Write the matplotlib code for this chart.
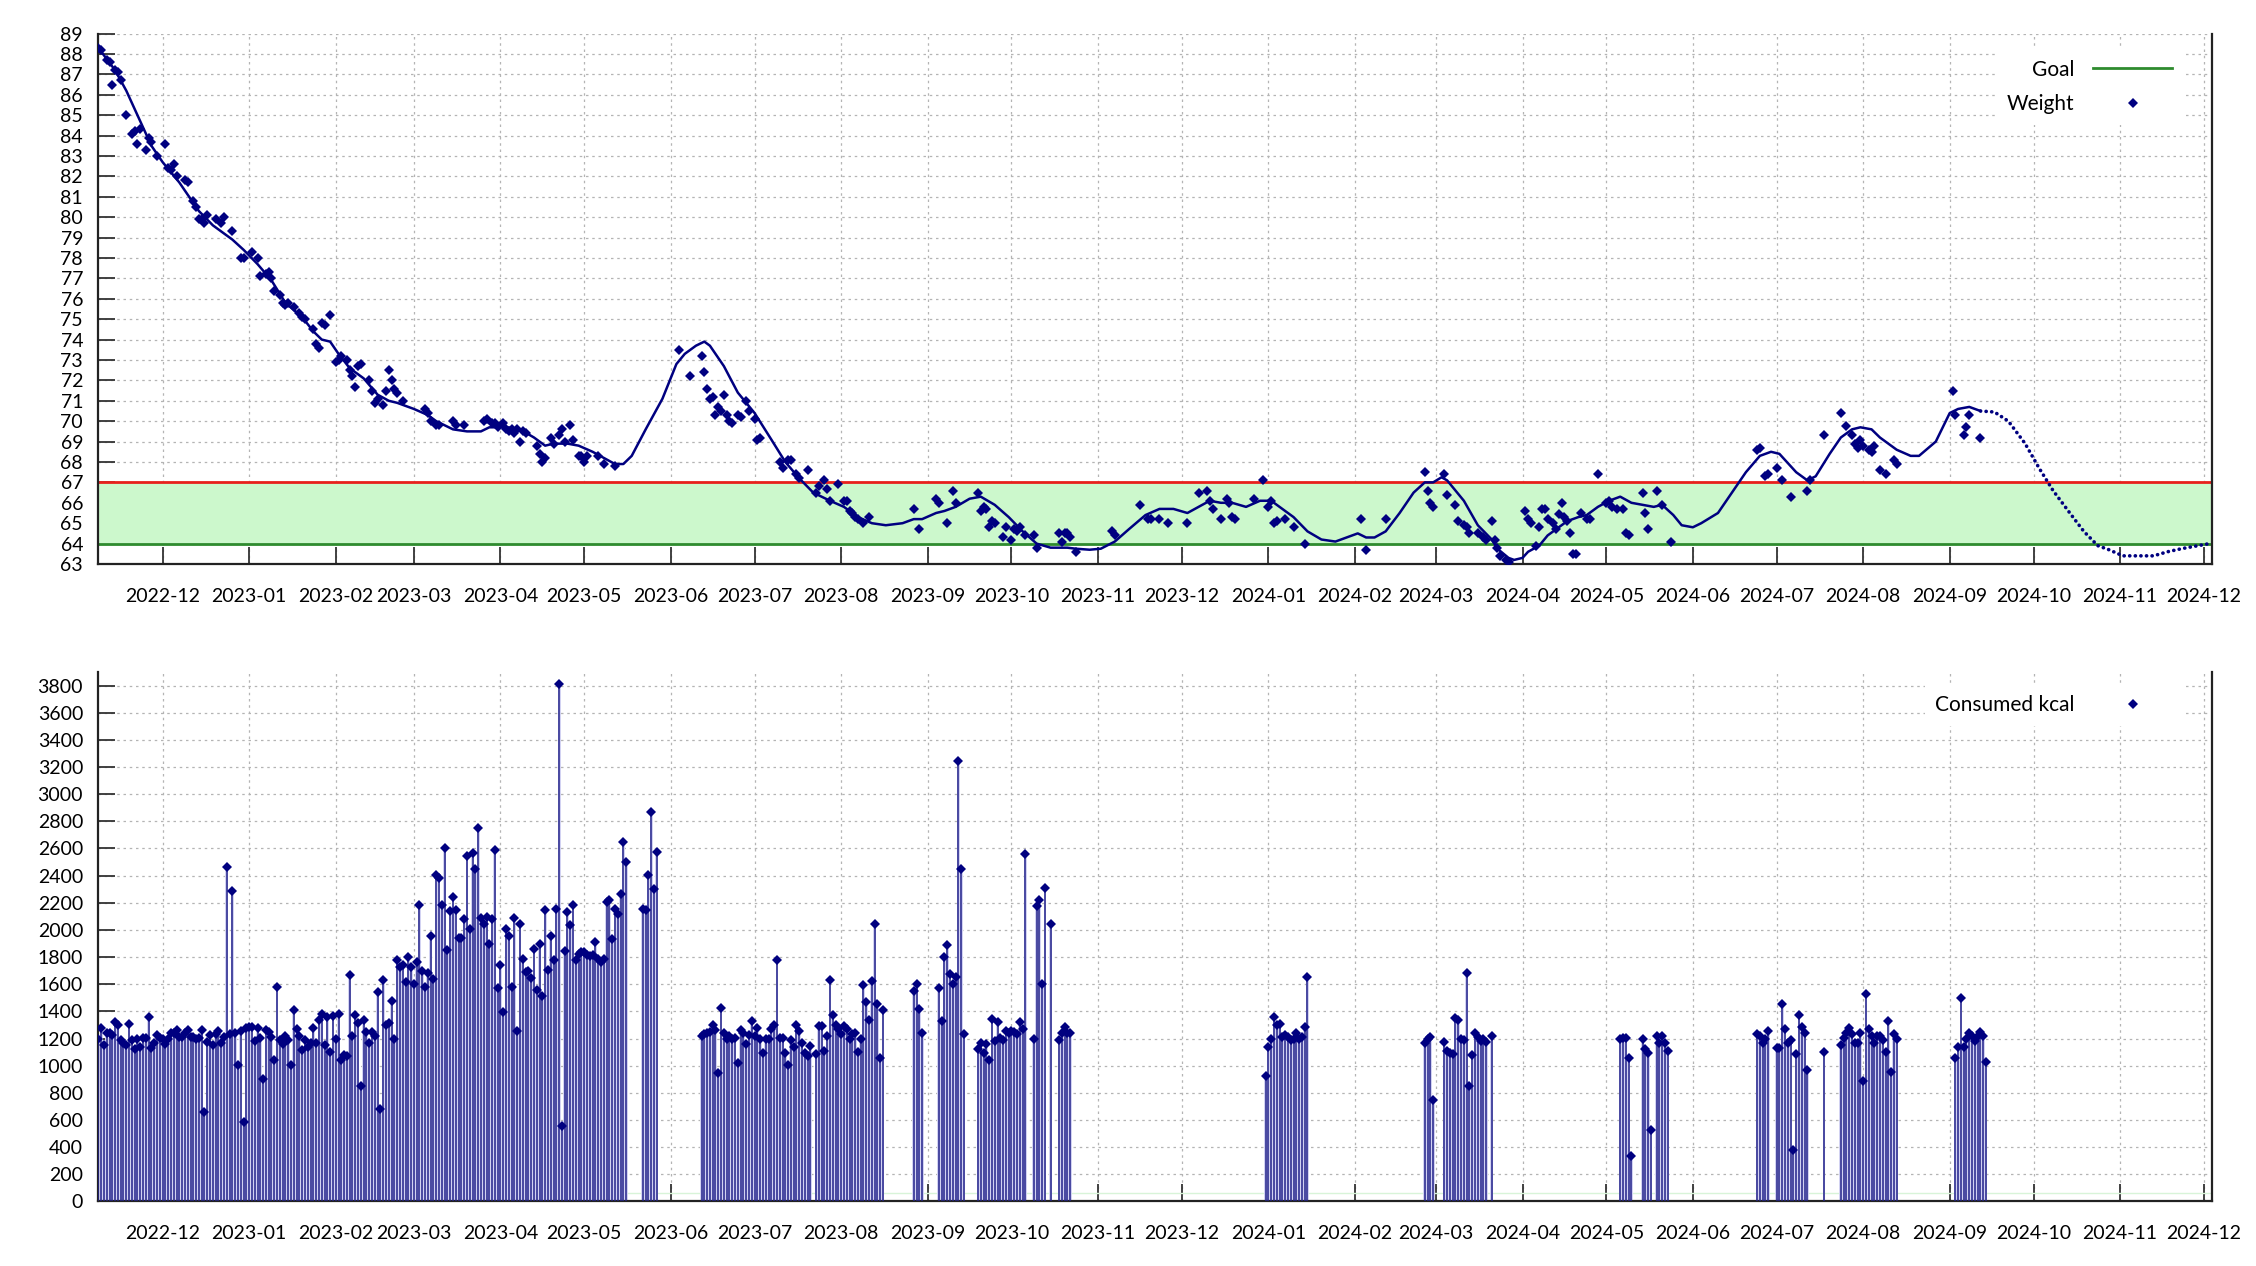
import numpy as np
import matplotlib
matplotlib.use('Agg')
import matplotlib.pyplot as plt
import matplotlib.dates as mdates

plt.rcParams['font.family'] = ['Lato', 'DejaVu Sans']
plt.rcParams['font.size'] = 14

# all days are counted from the first logged day
START = np.datetime64('2022-11-08')
END_DAY = 757

goal_low = 64
goal_high = 67

# weight measurements (kg)
weight_day = [0, 1, 3, 4, 5, 6, 7, 8, 10, 12, 13, 14, 15, 17, 18, 19, 21, 24, 25, 26, 27, 28,
              31, 32, 34, 35, 36, 37, 38, 39, 42, 44, 45, 48, 51, 52, 55, 57, 58, 60, 61, 62,
              63, 65, 66, 67, 68, 70, 72, 73, 74, 77, 78, 79, 80, 81, 83, 85, 86, 87, 89, 90,
              91, 92, 93, 94, 97, 98, 99, 100, 102, 103, 104, 105, 106, 107, 109, 117, 118,
              119, 121, 122, 127, 128, 131, 138, 139, 141, 142, 143, 145, 146, 147, 148, 149,
              150, 151, 152, 153, 157, 158, 159, 160, 162, 163, 165, 166, 167, 169, 170, 172,
              173, 174, 175, 179, 181, 185, 208, 212, 216, 217, 218, 219, 220, 221, 222, 223,
              224, 225, 226, 227, 229, 230, 232, 233, 235, 236, 237, 244, 245, 247, 248, 250,
              251, 254, 257, 258, 260, 261, 262, 265, 267, 268, 269, 270, 271, 272, 274, 276,
              292, 294, 300, 301, 304, 306, 307, 315, 316, 317, 318, 319, 320, 321, 324, 325,
              327, 328, 329, 330, 332, 335, 336, 344, 345, 346, 347, 348, 350, 363, 364, 373,
              376, 377, 380, 383, 390, 394, 397, 398, 399, 402, 404, 405, 406, 407, 414, 417,
              419, 420, 421, 422, 425, 428, 432, 452, 454, 461, 475, 476, 477, 478, 482, 483,
              486, 487, 489, 490, 491, 494, 496, 497, 499, 500, 501, 502, 504, 505, 511, 512,
              513, 515, 516, 517, 518, 519, 521, 522, 523, 524, 525, 526, 527, 528, 529, 531,
              533, 534, 537, 540, 541, 542, 544, 546, 547, 548, 553, 554, 555, 558, 560, 563,
              594, 595, 597, 598, 601, 603, 606, 612, 613, 618, 624, 626, 628, 629, 630, 631,
              632, 634, 635, 636, 638, 640, 643, 644, 664, 665, 668, 669, 670, 674]
weight_kg = [88.3, 88.2, 87.7, 87.6, 86.5, 87.2, 87.1, 86.7, 85.0, 84.1, 84.2, 83.6, 84.3, 83.3,
             83.9, 83.7, 83.0, 83.6, 82.4, 82.3, 82.6, 82.0, 81.8, 81.7, 80.8, 80.5, 79.9, 79.9,
             79.7, 80.1, 79.9, 79.7, 80.0, 79.3, 78.0, 78.0, 78.3, 78.0, 77.1, 77.2, 77.3, 77.0,
             76.4, 76.2, 75.8, 75.7, 75.8, 75.6, 75.3, 75.1, 75.0, 74.5, 73.8, 73.6, 74.8, 74.7,
             75.2, 72.9, 73.0, 73.2, 73.0, 72.5, 72.2, 71.7, 72.7, 72.8, 72.0, 71.5, 70.9, 71.1,
             70.8, 71.5, 72.5, 72.0, 71.6, 71.4, 71.0, 70.6, 70.4, 70.0, 69.8, 69.8, 70.0, 69.8,
             69.8, 70.0, 70.1, 69.9, 69.9, 69.7, 69.9, 69.6, 69.5, 69.6, 69.4, 69.6, 69.0, 69.5,
             69.4, 68.8, 68.4, 68.0, 68.2, 69.2, 68.9, 69.3, 69.6, 69.0, 69.8, 69.1, 68.3, 68.3,
             68.0, 68.3, 68.3, 67.9, 67.8, 73.5, 72.2, 73.2, 72.4, 71.6, 71.1, 71.2, 70.3, 70.7,
             70.5, 71.3, 70.3, 70.0, 69.9, 70.3, 70.2, 71.0, 70.5, 70.1, 69.1, 69.2, 68.0, 67.7,
             68.1, 68.1, 67.4, 67.2, 67.6, 66.5, 66.8, 67.1, 66.7, 66.1, 66.9, 66.1, 66.1, 65.6,
             65.5, 65.3, 65.2, 65.0, 65.3, 65.7, 64.7, 66.2, 66.0, 65.0, 66.6, 66.0, 66.5, 65.6,
             65.8, 65.7, 64.8, 65.1, 65.0, 64.3, 64.8, 64.2, 64.7, 64.6, 64.8, 64.4, 64.4, 63.8,
             64.5, 64.1, 64.5, 64.5, 64.3, 63.6, 64.6, 64.4, 65.9, 65.2, 65.2, 65.2, 65.0, 65.0,
             66.5, 66.6, 66.1, 65.7, 65.2, 66.2, 66.0, 65.3, 65.2, 66.2, 67.1, 65.8, 66.1, 65.0,
             65.1, 65.2, 64.8, 64.0, 65.2, 63.7, 65.2, 67.5, 66.6, 66.0, 65.8, 67.4, 66.4, 65.9,
             65.1, 64.9, 64.8, 64.5, 64.5, 64.3, 64.2, 65.1, 64.2, 63.8, 63.4, 63.2, 63.1, 65.6,
             65.2, 65.0, 63.9, 64.8, 65.7, 65.7, 65.2, 65.0, 64.7, 65.45, 66.0, 65.3, 65.1, 64.5,
             63.5, 63.5, 65.5, 65.2, 65.2, 67.4, 66.0, 66.1, 65.8, 65.7, 65.7, 64.5, 64.4, 66.5,
             65.5, 64.7, 66.6, 65.9, 64.1, 68.6, 68.7, 67.3, 67.4, 67.7, 67.1, 66.3, 66.6, 67.1,
             69.3, 70.4, 69.75, 69.3, 68.9, 68.7, 69.1, 68.8, 68.6, 68.5, 68.8, 67.6, 67.4, 68.1,
             67.9, 71.5, 70.3, 69.3, 69.7, 70.3, 69.2]

# smoothed weight trend
trend_day = [0, 6, 10, 15, 19, 23, 29, 36, 41, 45, 48, 52, 57, 62, 67, 73, 77, 80, 83, 86, 90,
             95, 100, 104, 107, 113, 118, 121, 127, 132, 137, 140, 146, 151, 156, 160, 163, 168,
             172, 177, 181, 185, 188, 191, 196, 202, 207, 210, 214, 217, 219, 224, 229, 235, 241,
             246, 251, 256, 262, 267, 272, 277, 282, 288, 292, 295, 300, 303, 307, 312, 316, 321,
             326, 331, 336, 341, 347, 350, 355, 359, 364, 369, 375, 380, 385, 390, 394, 398, 402,
             406, 411, 416, 420, 423, 428, 433, 438, 443, 447, 451, 454, 457, 461, 466, 471, 475,
             478, 481, 483, 489, 494, 499, 501, 505, 507, 510, 512, 516, 519, 523, 526, 530, 533,
             537, 541, 545, 549, 553, 557, 560, 564, 567, 571, 574, 580, 585, 590, 595, 599, 602,
             604, 608, 612, 615, 620, 624, 628, 631, 635, 638, 644, 649, 652, 658, 663, 666, 670,
             674]
trend_kg = [88.3, 87.2, 86.2, 84.7, 83.5, 82.7, 81.7, 80.3, 79.6, 79.2, 78.9, 78.4, 77.7, 76.9,
            75.8, 75.1, 74.4, 74.0, 73.9, 73.3, 72.6, 72.1, 71.3, 71.0, 70.9, 70.6, 70.3, 70.0,
            69.6, 69.5, 69.5, 69.7, 69.7, 69.6, 69.2, 68.8, 68.9, 68.9, 68.8, 68.5, 68.2, 67.9,
            67.9, 68.3, 69.6, 71.1, 72.8, 73.3, 73.7, 73.9, 73.7, 72.7, 71.4, 70.4, 69.1, 68.0,
            67.2, 66.5, 66.1, 65.8, 65.3, 65.0, 64.9, 65.0, 65.2, 65.2, 65.5, 65.6, 65.8, 66.2,
            66.3, 65.9, 65.3, 64.6, 64.0, 63.8, 63.8, 63.75, 63.7, 63.75, 64.1, 64.7, 65.4, 65.7,
            65.7, 65.5, 65.8, 66.1, 66.0, 66.0, 65.8, 66.1, 66.1, 65.8, 65.3, 64.6, 64.2, 64.1,
            64.3, 64.5, 64.3, 64.3, 64.6, 65.5, 66.5, 67.0, 67.0, 67.25, 67.1, 66.1, 64.9, 64.2,
            63.75, 63.3, 63.2, 63.3, 63.6, 63.9, 64.4, 64.8, 65.1, 65.3, 65.4, 65.8, 66.1, 66.3,
            66.0, 65.9, 65.8, 65.9, 65.4, 64.9, 64.8, 65.0, 65.5, 66.5, 67.5, 68.3, 68.5, 68.4,
            68.1, 67.5, 67.1, 67.3, 68.4, 69.2, 69.6, 69.7, 69.6, 69.2, 68.6, 68.3, 68.3, 69.0,
            70.4, 70.6, 70.7, 70.5]

# projected trend after the last measurement
forecast_day = [674, 679, 684, 690, 695, 700, 706, 711, 716, 720, 725, 731, 736, 741, 746, 752, 756]
forecast_kg = [70.5, 70.45, 70.0, 68.9, 67.7, 66.6, 65.5, 64.6, 63.9, 63.7, 63.4, 63.4, 63.4,
               63.6, 63.75, 63.9, 64.0]

# consumed kcal, runs of consecutive days: first day of each run and its values
kcal_start = [0, 101, 195, 216, 257, 292, 301, 315, 335, 341, 344, 418, 475, 482, 499, 545,
              553, 558, 594, 601, 618, 624, 665]
kcal_runs = [
    [1199, 1277, 1154, 1243, 1238, 1225, 1321, 1303, 1191, 1167, 1154, 1308, 1191, 1121, 1199,
     1134, 1206, 1206, 1355, 1128, 1167, 1225, 1206, 1199, 1160, 1199, 1243, 1238, 1264, 1212,
     1212, 1238, 1264, 1212, 1212, 1199, 1204, 1264, 660, 1173, 1225, 1152, 1230, 1256, 1165,
     1212, 2467, 1230, 2290, 1238, 1004, 1256, 582, 1277, 1284, 1284, 1180, 1277, 1206, 900,
     1264, 1251, 1212, 1043, 1576, 1191, 1160, 1219, 1191, 1004, 1412, 1271, 1219, 1115, 1186,
     1134, 1165, 1277, 1167, 1336, 1381, 1152, 1355, 1100, 1368, 1193, 1381, 1043, 1082, 1069,
     1667, 1217, 1373, 1316, 848, 1334, 1245, 1167, 1245, 1217, 1544],
    [679, 1633, 1303, 1316, 1477, 1199, 1776, 1724, 1745, 1620, 1802, 1724, 1602, 1765, 2187,
     1698, 1576, 1680, 1953, 1635, 2408, 2382, 2181, 2603, 1854, 2140, 2239, 2148, 1940, 1940,
     2083, 2545, 2010, 2564, 2447, 2753, 2088, 2044, 2096, 1895, 2083, 2590, 1570, 1745, 1394,
     2005, 1953, 1583, 2088, 1256, 2044, 1784, 1693, 1700, 1646, 1862, 1555, 1893, 1511, 2148,
     1706, 1958, 1776, 2153, 3809, 556, 1843, 2132, 2036, 2187, 1778, 1823, 1841, 1836, 1817,
     1810, 1815, 1908, 1789, 1765, 1784, 2207, 2218, 1932, 2153, 2114, 2265, 2649, 2499],
    [2153, 2145, 2402, 2870, 2304, 2577],
    [1217, 1230, 1238, 1245, 1303, 1264, 946, 1427, 1243, 1199, 1217, 1199, 1204, 1022, 1264,
     1238, 1160, 1225, 1329, 1217, 1277, 1199, 1095, 1199, 1199, 1271, 1297, 1776, 1206, 1206,
     1095, 1004, 1186, 1134, 1303, 1256, 1165, 1095, 1069, 1147],
    [1087, 1290, 1290, 1108, 1217, 1633, 1373, 1297, 1269, 1230, 1290, 1271, 1199, 1232, 1238,
     1102, 1193, 1596, 1472, 1334, 1622, 2044, 1451, 1056, 1412],
    [1550, 1602, 1414, 1243],
    [1570, 1329, 1802, 1888, 1672, 1602, 1654, 3247, 2447, 1232],
    [1121, 1167, 1095, 1160, 1043, 1342, 1180, 1321, 1204, 1191, 1258, 1243, 1256, 1251, 1232,
     1321, 1271, 2558],
    [1199, 2179, 2218, 1602, 2309],
    [2044],
    [1191, 1243, 1282, 1243, 1238],
    [926, 1134, 1199, 1355, 1297, 1310, 1212, 1225, 1212, 1186, 1199, 1243, 1199, 1212, 1282,
     1654],
    [1167, 1199, 1212, 744],
    [1173, 1108, 1095, 1089, 1349, 1336, 1193, 1186, 1680, 848, 1082, 1238, 1212, 1180, 1193,
     1173],
    [1219],
    [1199, 1204, 1204, 1056, 333],
    [1193, 1121, 1095, 523],
    [1219, 1167, 1219, 1167, 1108],
    [1232, 1219, 1167, 1199, 1258],
    [1128, 1128, 1453, 1269, 1167, 1186, 380, 1087, 1375, 1282, 1238, 965],
    [1102],
    [1154, 1204, 1243, 1277, 1230, 1167, 1167, 1238, 887, 1529, 1269, 1219, 1167, 1219, 1219,
     1186, 1102, 1329, 952, 1232, 1193],
    [1056, 1141, 1498, 1141, 1199, 1238, 1219, 1180, 1219, 1251, 1219, 1024],
]


def to_dates(days):
    return START + np.asarray(days).astype('timedelta64[D]')


kcal_day = []
kcal_val = []
for first, run in zip(kcal_start, kcal_runs):
    kcal_day += list(range(first, first + len(run)))
    kcal_val += run

NAVY = '#000080'
GRID = dict(color='#b4b4b4', linestyle=(0, (2, 3)), linewidth=0.9)

fig = plt.figure(figsize=(22.56, 12.66), dpi=100)
ax1 = fig.add_axes([0.0436, 0.5545, 0.9370, 0.4190])
ax2 = fig.add_axes([0.0436, 0.0510, 0.9370, 0.4182])

# weight plot
ax1.axhspan(goal_low, goal_high, color='#ccf8cc', zorder=1)
ax1.axhline(goal_high, color='#e8201c', lw=2, zorder=2)
goal_line = ax1.axhline(goal_low, color='#2e8b2e', lw=2, zorder=2)
ax1.plot(to_dates(trend_day), trend_kg, color=NAVY, lw=1.8, zorder=3)
ax1.plot(to_dates(forecast_day), forecast_kg, color=NAVY, lw=2.6,
         ls=(0, (0.05, 1.5)), dash_capstyle='round', zorder=3)
weight_pts, = ax1.plot(to_dates(weight_day), weight_kg, 'D', color=NAVY, ms=5.2,
                       mew=0, zorder=4)
ax1.set_ylim(63, 89)
ax1.set_yticks(range(63, 90))

# kcal plot
ax2.axhline(60, color='#d8f4d8', lw=1, zorder=1)
ax2.bar(to_dates(kcal_day), kcal_val, width=1.0, color='#d2d2f2', lw=0, zorder=2)
ax2.vlines(to_dates(kcal_day), 0, kcal_val, color='#22228a', lw=1.1, zorder=3)
kcal_pts, = ax2.plot(to_dates(kcal_day), kcal_val, 'D', color=NAVY, ms=5.0, mew=0, zorder=4)
ax2.set_ylim(0, 3900)
ax2.set_yticks(range(0, 3801, 200))

for ax in (ax1, ax2):
    ax.set_xlim(START, START + np.timedelta64(END_DAY, 'D'))
    ax.xaxis.set_major_locator(mdates.MonthLocator(bymonthday=1))
    ax.xaxis.set_major_formatter(mdates.DateFormatter('%Y-%m'))
    ax.grid(True, **GRID)
    ax.set_axisbelow(True)
    ax.tick_params(direction='in', length=12, width=1.3, color='#333333', labelsize=14)
    ax.tick_params(axis='x', pad=17)
    ax.tick_params(axis='y', pad=11)
    ax.spines['top'].set_visible(False)
    for side in ('left', 'bottom', 'right'):
        ax.spines[side].set_linewidth(1.6)
        ax.spines[side].set_color('#222222')

leg_kw = dict(loc='upper right', markerfirst=False, frameon=True, facecolor='white',
              edgecolor='none', framealpha=1, fancybox=False, fontsize=15,
              handlelength=3.8, handletextpad=0.9, borderpad=0.5, labelspacing=0.7)
ax1.legend([goal_line, weight_pts], ['Goal', 'Weight'],
           bbox_to_anchor=(0.991, 0.99), **leg_kw)
ax2.legend([kcal_pts], ['Consumed kcal'], bbox_to_anchor=(0.991, 0.995), **leg_kw)

fig.savefig('out.png', dpi=100)
